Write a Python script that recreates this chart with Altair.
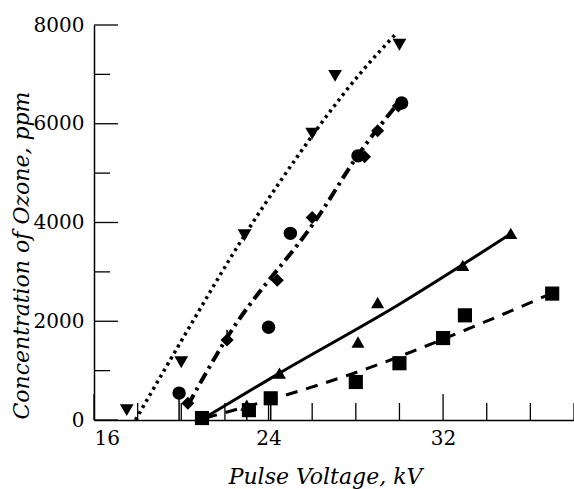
import altair as alt
import pandas as pd

# ---- data ----
tri_down_x = [17.5, 20.0, 22.9, 26.0, 27.05, 30.0]
tri_down_y = [200, 1170, 3740, 5800, 6970, 7600]

circle_x = [19.9, 24.0, 25.0, 28.1, 30.1]
circle_y = [545, 1880, 3780, 5350, 6420]

diamond_x = [20.3, 22.1, 24.4, 26.0, 28.4, 29.0, 29.95]
diamond_y = [340, 1620, 2830, 4100, 5330, 5860, 6360]

tri_up_x = [23.0, 24.5, 28.1, 29.0, 32.9, 35.1]
tri_up_y = [300, 950, 1580, 2380, 3130, 3780]

square_x = [20.95, 23.1, 24.1, 28.0, 30.0, 32.0, 33.0, 37.0]
square_y = [40, 200, 440, 770, 1150, 1660, 2120, 2560]

# fitted curves
fit_dotted_x = [17.9, 20.0, 22.9, 24.5, 28.3, 29.9]
fit_dotted_y = [0, 1600, 3740, 4810, 7070, 7850]

fit_dashdot_x = [20.3, 22.0, 26.4, 28.0, 30.1]
fit_dashdot_y = [300, 1600, 4200, 5300, 6500]

fit_solid_x = [20.9, 24.5, 29.9, 35.2]
fit_solid_y = [0, 950, 2320, 3800]

fit_dashed_x = [21.1, 24.5, 28.7, 31.9, 36.9]
fit_dashed_y = [40, 465, 1070, 1620, 2550]

# error bars
err_x = [19.9, 23.0, 24.1, 22.1]
err_lo = [0, 0, 0, 1620]
err_hi = [545, 300, 440, 1830]

# axis ticks
x_major = [16, 24, 32]
x_minor = [18, 20, 22, 26, 28, 30, 34, 36, 38]
y_major = [0, 2000, 4000, 6000, 8000]
y_minor = [1000, 3000, 5000, 7000]

W, H = 480, 395
FONT = "DejaVu Serif"

xs = alt.Scale(domain=[16, 38], nice=False, zero=False)
ys = alt.Scale(domain=[0, 8000], nice=False, zero=False)

xaxis = alt.Axis(values=x_major, ticks=False, grid=False, domainColor="black",
                 domainWidth=1.5, labelFont=FONT, labelFontSize=20,
                 labelColor="black", labelPadding=8,
                 title="Pulse Voltage, kV", titleFont=FONT, titleFontSize=22,
                 titleFontStyle="italic", titleFontWeight="normal",
                 titleColor="black", titleX=231, titleY=63,
                 titleBaseline="alphabetic", titleAlign="center")
yaxis = alt.Axis(values=y_major, ticks=False, grid=False, domainColor="black",
                 domainWidth=1.5, labelFont=FONT, labelFontSize=20,
                 labelColor="black", labelPadding=10, format="d",
                 title="Concentration of Ozone, ppm", titleFont=FONT,
                 titleFontSize=22, titleFontStyle="italic",
                 titleFontWeight="normal", titleColor="black",
                 titleX=-66, titleY=230, titleAngle=-90,
                 titleBaseline="alphabetic", titleAlign="center")


def X(f):
    return alt.X(f, scale=xs, axis=xaxis)


def Y(f):
    return alt.Y(f, scale=ys, axis=yaxis)


def pts(x, y):
    return pd.DataFrame({"x": x, "y": y})


def line(x, y, dash, width):
    kw = dict(color="black", strokeWidth=width, interpolate="monotone")
    if dash:
        kw["strokeDash"] = dash
    return alt.Chart(pts(x, y)).mark_line(**kw).encode(x=X("x:Q"), y=Y("y:Q"))


def marks(x, y, shape, size):
    return alt.Chart(pts(x, y)).mark_point(shape=shape, filled=True, size=size,
                                           color="black", opacity=1).encode(
        x=X("x:Q"), y=Y("y:Q"))


ticks_xM = alt.Chart(pd.DataFrame({"x": x_major})).mark_rule(color="black", strokeWidth=1.3).encode(
    x=X("x:Q"), y=alt.value(H), y2=alt.value(H - 26))
ticks_xm = alt.Chart(pd.DataFrame({"x": x_minor})).mark_rule(color="black", strokeWidth=1.3).encode(
    x=X("x:Q"), y=alt.value(H), y2=alt.value(H - 17))
ticks_yM = alt.Chart(pd.DataFrame({"y": y_major})).mark_rule(color="black", strokeWidth=1.3).encode(
    y=Y("y:Q"), x=alt.value(0), x2=alt.value(24))
ticks_ym = alt.Chart(pd.DataFrame({"y": y_minor})).mark_rule(color="black", strokeWidth=1.3).encode(
    y=Y("y:Q"), x=alt.value(0), x2=alt.value(16))

errs = alt.Chart(pd.DataFrame({"x": err_x, "y": err_lo, "hi": err_hi})).mark_rule(
    color="black", strokeWidth=1.5).encode(x=X("x:Q"), y=Y("y:Q"), y2="hi:Q")

chart = alt.layer(
    ticks_xM, ticks_xm, ticks_yM, ticks_ym,
    errs,
    line(fit_dotted_x, fit_dotted_y, [3, 4], 3.5),
    line(fit_dashdot_x, fit_dashdot_y, [12, 5, 3, 5], 4),
    line(fit_solid_x, fit_solid_y, None, 3),
    line(fit_dashed_x, fit_dashed_y, [12, 9], 3),
    marks(tri_down_x, tri_down_y, "triangle-down", 190),
    marks(circle_x, circle_y, "circle", 180),
    marks(diamond_x, diamond_y, "diamond", 170),
    marks(tri_up_x, tri_up_y, "triangle-up", 170),
    marks(square_x, square_y, "square", 200),
).properties(
    width=W, height=H,
    autosize=alt.AutoSizeParams(type="none"),
    padding={"left": 94, "top": 25, "right": 0, "bottom": 69},
    background="white",
).configure_view(stroke=None)

chart.save("out.html", embed_options={"renderer": "svg", "actions": False})
